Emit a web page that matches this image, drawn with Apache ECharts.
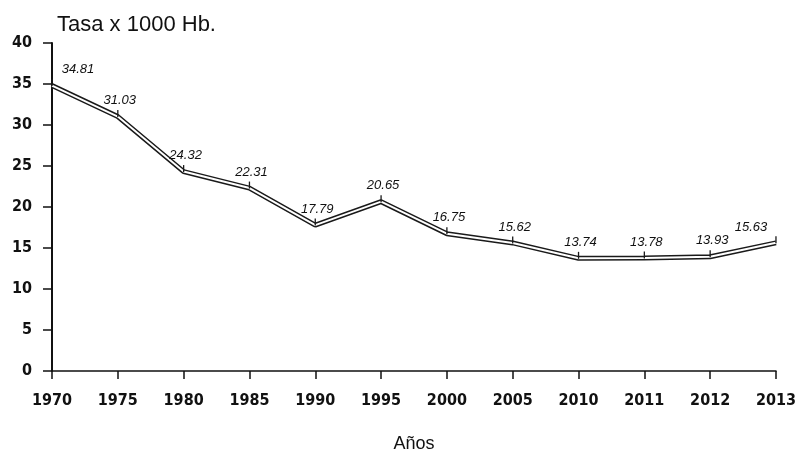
<!DOCTYPE html>
<html>
<head>
<meta charset="utf-8">
<script src="https://cdn.jsdelivr.net/npm/echarts@6/dist/echarts.min.js"></script>
<style>
  html, body { margin: 0; padding: 0; background: #fff; }
  #chart { width: 799px; height: 458px; }
</style>
</head>
<body>
<div id="chart"></div>
<script>
// Tasa por 1000 habitantes, por año
const years = ['1970', '1975', '1980', '1985', '1990', '1995', '2000', '2005', '2010', '2011', '2012', '2013'];
const rates = [34.81, 31.03, 24.32, 22.31, 17.79, 20.65, 16.75, 15.62, 13.74, 13.78, 13.93, 15.63];
const yTicks = [0, 5, 10, 15, 20, 25, 30, 35, 40];

const narrow = "'DejaVu Sans Condensed', 'Liberation Sans Narrow', 'Arial Narrow', sans-serif";
const plain = "'Liberation Sans', Arial, sans-serif";

// value labels sit above each point; the first and last are nudged inward
const labelOffsets = rates.map((v, i) => {
  if (i === 0) return [26, 0];
  if (i === rates.length - 1) return [-25, 1];
  return [2, 0];
});

const chart = echarts.init(document.getElementById('chart'), null, { renderer: 'canvas' });

chart.setOption({
  animation: false,
  backgroundColor: '#ffffff',
  title: {
    text: 'Tasa x 1000 Hb.',
    left: 52,
    top: 9,
    textStyle: { fontFamily: plain, fontSize: 22, fontWeight: 'normal', color: '#111' }
  },
  grid: { left: 52, right: 16, top: 43, bottom: 77, containLabel: false },
  xAxis: {
    type: 'category',
    data: years,
    boundaryGap: false,
    name: 'Años',
    nameLocation: 'middle',
    nameGap: 64,
    nameTextStyle: { fontFamily: plain, fontSize: 18, color: '#111' },
    axisLine: { lineStyle: { color: '#111', width: 1.5 } },
    axisTick: { alignWithLabel: true, length: 8, lineStyle: { color: '#111', width: 1.5 } },
    axisLabel: { margin: 22, fontFamily: narrow, fontSize: 16, fontWeight: 'bold', color: '#111' },
    splitLine: { show: false }
  },
  yAxis: {
    type: 'value',
    min: yTicks[0],
    max: yTicks[yTicks.length - 1],
    interval: 5,
    axisLine: { show: true, lineStyle: { color: '#111', width: 2 } },
    axisTick: { show: true, length: 9, lineStyle: { color: '#111', width: 1.5 } },
    axisLabel: { margin: 20, fontFamily: narrow, fontSize: 16, fontWeight: 'bold', color: '#111' },
    splitLine: { show: false }
  },
  series: [
    {
      // outer dark stroke of the double line
      name: 'borde',
      type: 'line',
      data: rates,
      symbol: 'none',
      silent: true,
      lineStyle: { color: '#1a1a1a', width: 5 },
      z: 2
    },
    {
      // light core of the double line, with point ticks and value labels
      name: 'tasa',
      type: 'line',
      data: rates.map((v, i) => ({
        value: v,
        label: { offset: labelOffsets[i] }
      })),
      symbol: 'rect',
      symbolSize: [1.3, 7],
      symbolOffset: [0, -3],
      itemStyle: { color: '#1a1a1a' },
      lineStyle: { color: '#ffffff', width: 2 },
      label: {
        show: true,
        position: 'top',
        distance: 3,
        fontFamily: plain,
        fontStyle: 'italic',
        fontSize: 13,
        color: '#111',
        formatter: p => p.value.toFixed(2)
      },
      z: 3
    }
  ]
});
</script>
</body>
</html>
